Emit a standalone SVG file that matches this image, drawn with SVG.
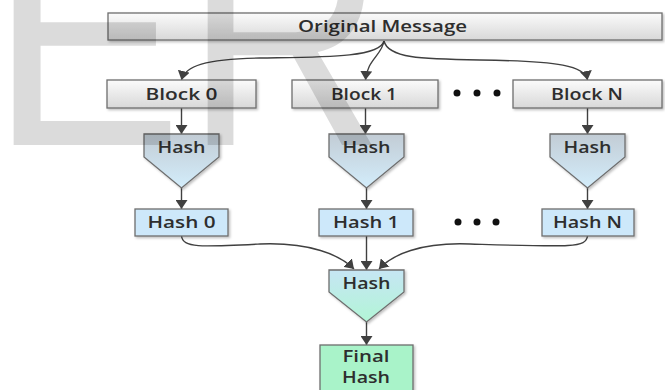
<svg xmlns="http://www.w3.org/2000/svg" width="665" height="390" viewBox="0 0 665 390">
  <defs>
    <linearGradient id="gBlock" x1="0" y1="0" x2="0" y2="1">
      <stop offset="0" stop-color="#fbfbfb"/>
      <stop offset="1" stop-color="#d8d8d8"/>
    </linearGradient>
    <linearGradient id="gHash" x1="0" y1="0" x2="0" y2="1">
      <stop offset="0" stop-color="#c2ccd5"/>
      <stop offset="1" stop-color="#d3edfb"/>
    </linearGradient>
    <linearGradient id="gFinalHash" x1="0" y1="0" x2="0" y2="1">
      <stop offset="0" stop-color="#c6e6f4"/>
      <stop offset="1" stop-color="#b2f5d6"/>
    </linearGradient>
    <filter id="shadow" x="-10%" y="-10%" width="120%" height="130%">
      <feDropShadow dx="1.5" dy="1.5" stdDeviation="1" flood-color="#000" flood-opacity="0.25"/>
    </filter>
    <marker id="arrow" markerUnits="userSpaceOnUse" markerWidth="10" markerHeight="12" refX="9" refY="6" orient="auto">
      <path d="M0,0 L9,6 L0,12 Z" fill="#404040"/>
    </marker>
  </defs>
  <style>
    .block { fill: url(#gBlock); stroke: #6e6e6e; stroke-width: 1.3; filter: url(#shadow); }
    .hashbox { fill: #cde8fa; stroke: #6e6e6e; stroke-width: 1.3; filter: url(#shadow); }
    .hashfn { fill: url(#gHash); stroke: #6e6e6e; stroke-width: 1.3; filter: url(#shadow); }
    .hashfinal { fill: url(#gFinalHash); stroke: #6e6e6e; stroke-width: 1.3; filter: url(#shadow); }
    .final { fill: #a9f3c9; stroke: #6e6e6e; stroke-width: 1.3; filter: url(#shadow); }
    .label { font-family: "Open Sans", "Liberation Sans", sans-serif; font-size: 16px; font-weight: 600; fill: #2e2e2e; text-anchor: middle; }
    .edge { fill: none; stroke: #404040; stroke-width: 1.4; marker-end: url(#arrow); }
    .dot { fill: #111; }
    .mark { font-family: "Liberation Sans", Arial, sans-serif; font-size: 314px; fill: #000; fill-opacity: 0.14; }
  </style>

  <rect width="665" height="390" fill="#fff"/>

  <!-- connectors -->
  <g id="connectors">
    <path class="edge" d="M384,41 C380,58 320,57 260,58 C205,59 185,66 181.5,80"/>
    <path class="edge" d="M384,41 C382,55 367,60 365.5,80"/>
    <path class="edge" d="M384,41 C388,58 420,59 480,60 C560,61 585,66 587.5,80"/>
    <path class="edge" d="M181.5,108 V134"/>
    <path class="edge" d="M365.5,108 V134"/>
    <path class="edge" d="M587.5,108 V134"/>
    <path class="edge" d="M181.5,188 V209"/>
    <path class="edge" d="M366.5,188 V209"/>
    <path class="edge" d="M587.5,188 V209"/>
    <path class="edge" d="M181.5,236 C183,248 200,247 260,244 C310,242 340,255 354,269"/>
    <path class="edge" d="M366.5,236 V270"/>
    <path class="edge" d="M587.5,236 C586,248 570,247 470,244 C420,242 392,255 379,269"/>
    <path class="edge" d="M366.5,322 V345"/>
  </g>

  <g id="original-message">
    <rect class="block" x="108" y="13" width="554" height="27"/>
    <text class="label" x="382.5" y="32" textLength="169" lengthAdjust="spacingAndGlyphs">Original Message</text>
  </g>

  <g id="block-0">
    <rect class="block" x="107" y="80" width="149" height="28"/>
    <text class="label" x="181.5" y="100" textLength="72" lengthAdjust="spacingAndGlyphs">Block 0</text>
  </g>
  <g id="block-1">
    <rect class="block" x="292" y="80" width="146" height="28"/>
    <text class="label" x="364" y="100" textLength="66" lengthAdjust="spacingAndGlyphs">Block 1</text>
  </g>
  <g id="block-n">
    <rect class="block" x="513" y="80" width="149" height="28"/>
    <text class="label" x="587" y="100" textLength="72" lengthAdjust="spacingAndGlyphs">Block N</text>
  </g>
  <g id="block-ellipsis">
    <circle class="dot" cx="457" cy="93" r="3.5"/>
    <circle class="dot" cx="477" cy="93" r="3.5"/>
    <circle class="dot" cx="497" cy="93" r="3.5"/>
  </g>

  <g id="hash-fn-0">
    <path class="hashfn" d="M144,134 H219 V157 L181.5,188 L144,157 Z"/>
    <text class="label" x="181.5" y="153" textLength="48" lengthAdjust="spacingAndGlyphs">Hash</text>
  </g>
  <g id="hash-fn-1">
    <path class="hashfn" d="M329,134 H404 V157 L366.5,188 L329,157 Z"/>
    <text class="label" x="366.5" y="153" textLength="48" lengthAdjust="spacingAndGlyphs">Hash</text>
  </g>
  <g id="hash-fn-n">
    <path class="hashfn" d="M550,134 H625 V157 L587.5,188 L550,157 Z"/>
    <text class="label" x="587.5" y="153" textLength="48" lengthAdjust="spacingAndGlyphs">Hash</text>
  </g>

  <g id="hash-0">
    <rect class="hashbox" x="135" y="209" width="93" height="27"/>
    <text class="label" x="181.5" y="228" textLength="68" lengthAdjust="spacingAndGlyphs">Hash 0</text>
  </g>
  <g id="hash-1">
    <rect class="hashbox" x="319" y="209" width="94" height="27"/>
    <text class="label" x="366" y="228" textLength="66" lengthAdjust="spacingAndGlyphs">Hash 1</text>
  </g>
  <g id="hash-n">
    <rect class="hashbox" x="542" y="209" width="92" height="27"/>
    <text class="label" x="587.5" y="228" textLength="69" lengthAdjust="spacingAndGlyphs">Hash N</text>
  </g>
  <g id="hash-ellipsis">
    <circle class="dot" cx="458" cy="222" r="3.5"/>
    <circle class="dot" cx="477" cy="222" r="3.5"/>
    <circle class="dot" cx="496" cy="222" r="3.5"/>
  </g>

  <g id="hash-fn-final">
    <path class="hashfinal" d="M329,270 H404 V292 L366.5,322 L329,292 Z"/>
    <text class="label" x="366.5" y="289" textLength="48" lengthAdjust="spacingAndGlyphs">Hash</text>
  </g>

  <g id="final-hash">
    <rect class="final" x="320" y="345" width="93" height="52"/>
    <text class="label" x="366" y="362" textLength="47" lengthAdjust="spacingAndGlyphs">Final</text>
    <text class="label" x="366" y="383" textLength="48" lengthAdjust="spacingAndGlyphs">Hash</text>
  </g>

  <!-- translucent watermark lettering over the top-left -->
  <g id="watermark">
    <text class="mark" x="-12" y="145" transform="translate(12,0) scale(0.92,1) translate(-12,0)">E</text>
    <text class="mark" x="182" y="145" transform="translate(207,0) scale(0.88,1) translate(-207,0)">R</text>
  </g>
</svg>
